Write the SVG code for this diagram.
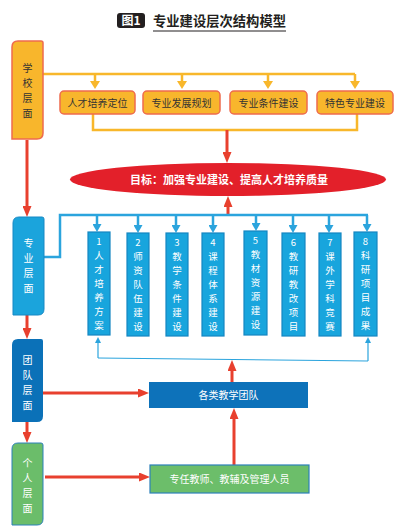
<svg xmlns="http://www.w3.org/2000/svg" width="408" height="528" viewBox="0 0 408 528">
<style>
text{font-family:"Noto Sans CJK SC","Liberation Sans",sans-serif;text-anchor:middle}
.side{font-size:10px}
.dark{fill:#333}
.wht{fill:#fff}
.ob{fill:#F8B62C;stroke:#EE6B4D;stroke-width:1.5}
.obt{font-size:10px;fill:#333}
.col{fill:#18A5DD;stroke:#1586C2;stroke-width:1.2}
.colt{font-size:9.5px;fill:#fff}
.yl{fill:none;stroke:#F8B72B;stroke-width:2.5}
.rl{fill:none;stroke:#E8402E;stroke-width:3}
.bl{fill:none;stroke:#2BA4DD;stroke-width:2.5}
.tb{fill:none;stroke:#2BA4DD;stroke-width:1.2}
</style>
<defs>
<marker id="ar" markerUnits="userSpaceOnUse" markerWidth="11" markerHeight="9" refX="3" refY="4.5" orient="auto"><path d="M0,0 L11,4.5 L0,9 Z" fill="#E8402E"/></marker>
<marker id="ay" markerUnits="userSpaceOnUse" markerWidth="8" markerHeight="10" refX="2" refY="5" orient="auto"><path d="M0,0 L8,5 L0,10 Z" fill="#F8B72B"/></marker>
<marker id="ab" markerUnits="userSpaceOnUse" markerWidth="8" markerHeight="9" refX="2" refY="4.5" orient="auto"><path d="M0,0 L8,4.5 L0,9 Z" fill="#2BA4DD"/></marker>
<marker id="at" markerUnits="userSpaceOnUse" markerWidth="6" markerHeight="6" refX="1" refY="3" orient="auto"><path d="M0,0 L6,3 L0,6 Z" fill="#2BA4DD"/></marker>
</defs>
<rect width="408" height="528" fill="#fff"/>
<g id="title">
<rect x="117" y="13" width="28" height="15" rx="3" fill="#231F20"/>
<text x="131" y="25" font-size="12" font-weight="bold" fill="#fff">图1</text>
<text x="219.5" y="26" font-size="13.3" font-weight="bold" fill="#231F20">专业建设层次结构模型</text>
<line x1="153" y1="31" x2="286" y2="31" stroke="#231F20" stroke-width="1.2"/>
</g>
<g id="connectors">
<polyline class="yl" points="43,74 355,74"/>
<line class="yl" x1="95" y1="74" x2="95" y2="83" marker-end="url(#ay)"/>
<line class="yl" x1="182" y1="74" x2="182" y2="83" marker-end="url(#ay)"/>
<line class="yl" x1="268" y1="74" x2="268" y2="83" marker-end="url(#ay)"/>
<line class="yl" x1="355" y1="74" x2="355" y2="83" marker-end="url(#ay)"/>
<polyline class="yl" points="93,114 93,130 357,130 357,114"/>
<line class="rl" x1="227" y1="130" x2="227" y2="155" marker-end="url(#ar)"/>
<line class="rl" x1="228" y1="215" x2="228" y2="204" marker-end="url(#ar)"/>
<line class="rl" x1="27" y1="140" x2="27" y2="209" marker-end="url(#ar)"/>
<polyline class="bl" points="44,257 60,257 60,215 368,215"/>
<line class="bl" x1="97" y1="215" x2="97" y2="226" marker-end="url(#ab)"/>
<line class="bl" x1="138" y1="215" x2="138" y2="227" marker-end="url(#ab)"/>
<line class="bl" x1="176" y1="215" x2="176" y2="227" marker-end="url(#ab)"/>
<line class="bl" x1="213" y1="215" x2="213" y2="227" marker-end="url(#ab)"/>
<line class="bl" x1="256" y1="215" x2="256" y2="225" marker-end="url(#ab)"/>
<line class="bl" x1="293" y1="215" x2="293" y2="227" marker-end="url(#ab)"/>
<line class="bl" x1="329" y1="215" x2="329" y2="227" marker-end="url(#ab)"/>
<line class="bl" x1="367" y1="215" x2="367" y2="226" marker-end="url(#ab)"/>
<line class="rl" x1="27" y1="315" x2="27" y2="331" marker-end="url(#ar)"/>
<line class="rl" x1="27" y1="422" x2="27" y2="435" marker-end="url(#ar)"/>
<line class="rl" x1="43" y1="393" x2="141" y2="393" marker-end="url(#ar)"/>
<line class="rl" x1="45" y1="477" x2="142" y2="477" marker-end="url(#ar)"/>
<line class="rl" x1="234" y1="465" x2="234" y2="416" marker-end="url(#ar)"/>
<line class="rl" x1="232" y1="382" x2="232" y2="368" marker-end="url(#ar)"/>
<polyline class="tb" points="98,358 368,361"/>
<line class="tb" x1="98" y1="358" x2="98" y2="342" marker-end="url(#at)"/>
<line class="tb" x1="368" y1="361" x2="368" y2="342" marker-end="url(#at)"/>
</g>
<g id="school">
<path d="M18,41 H41 Q43,41 43,43 V133 Q43,139 37,139 H12 V47 Q12,41 18,41 Z" class="ob"/>
<text class="side dark" x="27.5" y="72">学</text>
<text class="side dark" x="27.5" y="87">校</text>
<text class="side dark" x="27.5" y="102">层</text>
<text class="side dark" x="27.5" y="117">面</text>
</g>
<g id="n1"><rect class="ob" x="60" y="91" width="75" height="23" rx="4"/><text class="obt" x="97.5" y="106.5">人才培养定位</text></g>
<g id="n2"><rect class="ob" x="143" y="91" width="77" height="23" rx="4"/><text class="obt" x="181.5" y="106.5">专业发展规划</text></g>
<g id="n3"><rect class="ob" x="230" y="91" width="77" height="23" rx="4"/><text class="obt" x="268.5" y="106.5">专业条件建设</text></g>
<g id="n4"><rect class="ob" x="317" y="91" width="76" height="23" rx="4"/><text class="obt" x="355" y="106.5">特色专业建设</text></g>
<g id="goal">
<ellipse cx="228" cy="179.5" rx="158" ry="16.5" fill="#E3202A"/>
<text x="229" y="183.5" font-size="11" font-weight="bold" fill="#fff">目标：加强专业建设、提高人才培养质量</text>
</g>
<g id="major">
<path d="M19,217 H42 Q44,217 44,219 V309 Q44,315 38,315 H13 V223 Q13,217 19,217 Z" fill="#1BA4DC" stroke="#1788C4" stroke-width="1"/>
<text class="side wht" x="28.5" y="247">专</text>
<text class="side wht" x="28.5" y="262">业</text>
<text class="side wht" x="28.5" y="277">层</text>
<text class="side wht" x="28.5" y="292">面</text>
</g>
<g id="c1"><rect class="col" x="88" y="232" width="22" height="103"/>
<text class="colt" x="99" y="245">1</text><text class="colt" x="99" y="259">人</text><text class="colt" x="99" y="273">才</text><text class="colt" x="99" y="287">培</text><text class="colt" x="99" y="301">养</text><text class="colt" x="99" y="315">方</text><text class="colt" x="99" y="329">案</text></g>
<g id="c2"><rect class="col" x="127" y="233" width="22" height="103"/>
<text class="colt" x="138" y="246">2</text><text class="colt" x="138" y="260">师</text><text class="colt" x="138" y="274">资</text><text class="colt" x="138" y="288">队</text><text class="colt" x="138" y="302">伍</text><text class="colt" x="138" y="316">建</text><text class="colt" x="138" y="330">设</text></g>
<g id="c3"><rect class="col" x="166" y="233" width="22" height="103"/>
<text class="colt" x="177" y="246">3</text><text class="colt" x="177" y="260">教</text><text class="colt" x="177" y="274">学</text><text class="colt" x="177" y="288">条</text><text class="colt" x="177" y="302">件</text><text class="colt" x="177" y="316">建</text><text class="colt" x="177" y="330">设</text></g>
<g id="c4"><rect class="col" x="202" y="233" width="22" height="103"/>
<text class="colt" x="213" y="246">4</text><text class="colt" x="213" y="260">课</text><text class="colt" x="213" y="274">程</text><text class="colt" x="213" y="288">体</text><text class="colt" x="213" y="302">系</text><text class="colt" x="213" y="316">建</text><text class="colt" x="213" y="330">设</text></g>
<g id="c5"><rect class="col" x="244" y="231" width="23" height="104"/>
<text class="colt" x="255.5" y="244">5</text><text class="colt" x="255.5" y="258">教</text><text class="colt" x="255.5" y="272">材</text><text class="colt" x="255.5" y="286">资</text><text class="colt" x="255.5" y="300">源</text><text class="colt" x="255.5" y="314">建</text><text class="colt" x="255.5" y="328">设</text></g>
<g id="c6"><rect class="col" x="282" y="233" width="23" height="103"/>
<text class="colt" x="293.5" y="246">6</text><text class="colt" x="293.5" y="260">教</text><text class="colt" x="293.5" y="274">研</text><text class="colt" x="293.5" y="288">教</text><text class="colt" x="293.5" y="302">改</text><text class="colt" x="293.5" y="316">项</text><text class="colt" x="293.5" y="330">目</text></g>
<g id="c7"><rect class="col" x="319" y="233" width="22" height="103"/>
<text class="colt" x="330" y="246">7</text><text class="colt" x="330" y="260">课</text><text class="colt" x="330" y="274">外</text><text class="colt" x="330" y="288">学</text><text class="colt" x="330" y="302">科</text><text class="colt" x="330" y="316">竞</text><text class="colt" x="330" y="330">赛</text></g>
<g id="c8"><rect class="col" x="354" y="232" width="23" height="104"/>
<text class="colt" x="365.5" y="245">8</text><text class="colt" x="365.5" y="259">科</text><text class="colt" x="365.5" y="273">研</text><text class="colt" x="365.5" y="287">项</text><text class="colt" x="365.5" y="301">目</text><text class="colt" x="365.5" y="315">成</text><text class="colt" x="365.5" y="329">果</text></g>
<g id="team">
<path d="M18,339 H41 Q43,339 43,341 V416 Q43,422 37,422 H12 V345 Q12,339 18,339 Z" fill="#0B71B8"/>
<text class="side wht" x="27.5" y="364">团</text>
<text class="side wht" x="27.5" y="379">队</text>
<text class="side wht" x="27.5" y="394">层</text>
<text class="side wht" x="27.5" y="409">面</text>
</g>
<g id="teams">
<rect x="149" y="382" width="159" height="26" fill="#0D72BA"/>
<text x="228.5" y="398.5" font-size="10" fill="#fff">各类教学团队</text>
</g>
<g id="person">
<path d="M18,443 H41 Q43,443 43,445 V519 Q43,525 37,525 H12 V449 Q12,443 18,443 Z" fill="#6BBD6A" stroke="#2C80BA" stroke-width="1"/>
<text class="side wht" x="27.5" y="467">个</text>
<text class="side wht" x="27.5" y="482">人</text>
<text class="side wht" x="27.5" y="497">层</text>
<text class="side wht" x="27.5" y="512">面</text>
</g>
<g id="staff">
<rect x="150" y="465" width="159" height="28" fill="#6CBE6A" stroke="#2C80BA" stroke-width="1.2"/>
<text x="229.5" y="482.5" font-size="10" fill="#fff">专任教师、教辅及管理人员</text>
</g>
</svg>
